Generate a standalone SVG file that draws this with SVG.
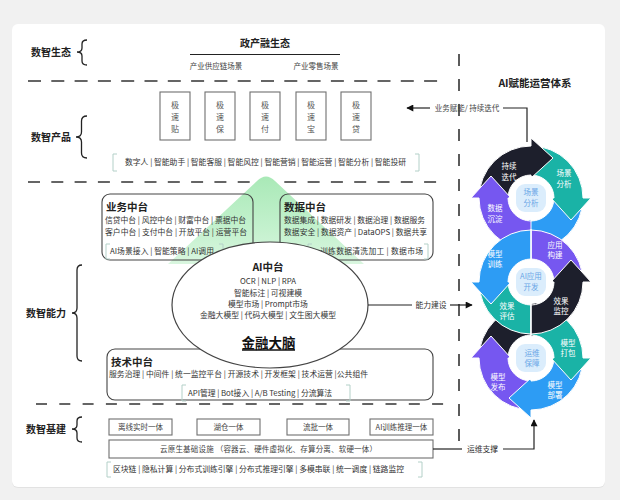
<svg xmlns="http://www.w3.org/2000/svg" width="620" height="500" viewBox="0 0 620 500">
<defs>
<style>
text{font-family:"Noto Sans CJK SC","Noto Sans",sans-serif}
.lbl{font-size:10px;font-weight:700;fill:#222}
.ttl{font-size:10.5px;font-weight:700;fill:#222}
.sm{font-size:7.8px;fill:#333}
.sub{font-size:7.5px;fill:#444}
.pc{font-size:8px;fill:#555;text-anchor:middle}
.mid{text-anchor:middle}
.box{fill:#fff;stroke:#6f6f6f;stroke-width:1.1}
.panel{fill:none;stroke:#444;stroke-width:1.1}
.dash{stroke:#333;stroke-width:1.6;fill:none}
.brk{fill:none;stroke:#b3d0c8;stroke-width:1}
.brace{fill:none;stroke:#222;stroke-width:1.3}
.conn{fill:none;stroke:#222;stroke-width:1.2}
.seg{stroke:#fff;stroke-width:1}
.dk{fill:#1d1f2c}.tl{fill:#1ab3a6}.bl{fill:#2d9cf4}.pu{fill:#7657f0}
.wl{font-size:7.5px;fill:#fff;text-anchor:middle}
.il{font-size:7.5px;fill:#6aa6e6;text-anchor:middle}
.hole{fill:#fff}
.sq{fill:#dbedfc}
</style>
<linearGradient id="gr" x1="0" y1="0" x2="0" y2="1">
<stop offset="0" stop-color="#a9e9b7"/>
<stop offset="0.6" stop-color="#c4f1ce"/>
<stop offset="1" stop-color="#d9f6df"/>
</linearGradient>
<marker id="ah" viewBox="0 0 10 10" refX="9" refY="5" markerUnits="userSpaceOnUse" markerWidth="8" markerHeight="7" orient="auto">
<path d="M0,0 L10,5 L0,10 z" fill="#111"/>
</marker>
</defs>

<rect x="0" y="0" width="620" height="500" fill="#f1f1f1"/>
<rect x="12" y="25" width="593" height="463" rx="6" fill="#e2e2e2"/>
<rect x="12" y="24" width="593" height="463" rx="6" fill="#fff"/>

<!-- dashed separators -->
<g id="separators">
<line class="dash" x1="28" y1="81" x2="438" y2="81" stroke-dasharray="13 10.3"/>
<line class="dash" x1="28" y1="182" x2="440" y2="182" stroke-dasharray="12 11.3"/>
<line class="dash" x1="36" y1="404" x2="445" y2="404" stroke-dasharray="11 12.3"/>
<line class="dash" x1="459" y1="54" x2="459" y2="443" stroke-dasharray="12 13"/>
</g>

<!-- left labels -->
<g id="labels">
<text class="lbl" x="31" y="56">数智生态</text>
<path class="brace" d="M87,40 Q82,40 82,44 L82,48 Q82,52 77,52 Q82,52 82,56 L82,61 Q82,65 87,65"/>
<text class="lbl" x="31" y="141">数智产品</text>
<path class="brace" d="M87,116 Q81.5,116 81.5,121 L81.5,132 Q81.5,137 76,137 Q81.5,137 81.5,142 L81.5,153 Q81.5,158 87,158"/>
<text class="lbl" x="26" y="317">数智能力</text>
<path class="brace" d="M82,265 Q77,265 77,270 L77,308 Q77,313 72,313 Q77,313 77,318 L77,356 Q77,361 82,361"/>
<text class="lbl" x="26" y="433">数智基建</text>
<path class="brace" d="M82,417 Q77,417 77,421 L77,425 Q77,429 72,429 Q77,429 77,433 L77,438 Q77,442 82,442"/>
</g>

<!-- ecosystem -->
<g id="ecosystem">
<text class="lbl mid" x="265" y="47">政产融生态</text>
<line x1="190" y1="54.5" x2="340" y2="54.5" stroke="#222" stroke-width="1.2"/>
<text class="sub mid" x="216" y="69">产业供应链场景</text>
<text class="sub mid" x="316" y="69">产业零售场景</text>
</g>

<!-- products -->
<g id="product-1"><rect class="box" x="160" y="92" width="30" height="48"/><text class="pc" x="175" y="108">极</text><text class="pc" x="175" y="120">速</text><text class="pc" x="175" y="132">贴</text></g>
<g id="product-2"><rect class="box" x="205" y="92" width="30" height="48"/><text class="pc" x="220" y="108">极</text><text class="pc" x="220" y="120">速</text><text class="pc" x="220" y="132">保</text></g>
<g id="product-3"><rect class="box" x="250" y="92" width="30" height="48"/><text class="pc" x="265" y="108">极</text><text class="pc" x="265" y="120">速</text><text class="pc" x="265" y="132">付</text></g>
<g id="product-4"><rect class="box" x="296" y="92" width="30" height="48"/><text class="pc" x="311" y="108">极</text><text class="pc" x="311" y="120">速</text><text class="pc" x="311" y="132">宝</text></g>
<g id="product-5"><rect class="box" x="341" y="92" width="30" height="48"/><text class="pc" x="356" y="108">极</text><text class="pc" x="356" y="120">速</text><text class="pc" x="356" y="132">贷</text></g>
<g id="product-abilities">
<path class="brk" d="M117,154 L113,154 L113,171 L117,171 M415,154 L419,154 L419,171 L415,171"/>
<text class="sm" x="125" y="165" textLength="281" lengthAdjust="spacing">数字人 | 智能助手 | 智能客服 | 智能风控 | 智能营销 | 智能运营 | 智能分析 | 智能投研</text>
</g>

<!-- green upward arrow -->
<path d="M168,264 L257,181 Q266,172 275,181 L364,264 Z" fill="url(#gr)"/>

<!-- 业务中台 -->
<g id="biz-platform">
<rect class="panel" x="102" y="194" width="151" height="66" rx="8"/>
<text class="ttl" x="106" y="211">业务中台</text>
<text class="sm" x="105" y="223" textLength="141" lengthAdjust="spacing">信贷中台 | 风控中台 | 财富中台 | 票据中台</text>
<text class="sm" x="105" y="235" textLength="142" lengthAdjust="spacing">客户中台 | 支付中台 | 开放平台 | 运营平台</text>
<path class="brk" d="M110,244 L106,244 L106,259 L110,259 M219,244 L223,244 L223,259 L219,259"/>
<text class="sm" x="110" y="254" textLength="104" lengthAdjust="spacing">AI场景接入 | 智能策略 | AI调用</text>
</g>

<!-- 数据中台 -->
<g id="data-platform">
<rect class="panel" x="280" y="194" width="153" height="66" rx="8"/>
<text class="ttl" x="284" y="211">数据中台</text>
<text class="sm" x="284" y="223" textLength="141" lengthAdjust="spacing">数据集成 | 数据研发 | 数据治理 | 数据服务</text>
<text class="sm" x="284" y="235" textLength="143" lengthAdjust="spacing">数据安全 | 数据资产 | DataOPS | 数据共享</text>
<path class="brk" d="M312,244 L308,244 L308,259 L312,259 M424,244 L428,244 L428,259 L424,259"/>
<text class="sm" x="320" y="254" textLength="103" lengthAdjust="spacing">训练数据清洗加工 | 数据市场</text>
</g>

<!-- 技术中台 -->
<g id="tech-platform">
<rect class="panel" x="107" y="349" width="326" height="51" rx="8"/>
<text class="ttl" x="111" y="366">技术中台</text>
<text class="sm" x="109" y="377" textLength="259" lengthAdjust="spacing">服务治理 | 中间件 | 统一监控平台 | 开源技术 | 开发框架 | 技术运营 |公共组件</text>
<path class="brk" d="M186,385 L182,385 L182,401 L186,401 M346,385 L350,385 L350,401 L346,401"/>
<text class="sm" x="188" y="396" textLength="144" lengthAdjust="spacing">API管理 | Bot接入 | A/B Testing | 分流算法</text>
</g>

<!-- AI中台 ellipse -->
<g id="ai-platform">
<ellipse cx="270" cy="305" rx="98" ry="63" fill="#fff" stroke="#444" stroke-width="1.2"/>
<text class="ttl mid" x="268" y="271">AI中台</text>
<text class="sm mid" x="268" y="284">OCR | NLP | RPA</text>
<text class="sm mid" x="268" y="296">智能标注 | 可视建模</text>
<text class="sm mid" x="268" y="307">模型市场 | Prompt市场</text>
<text class="sm" x="200" y="318" textLength="136" lengthAdjust="spacing">金融大模型 | 代码大模型 | 文生图大模型</text>
<text class="mid" x="268.5" y="347.5" font-size="13.5" font-weight="700" fill="#111">金融大脑</text>
<line x1="242" y1="350" x2="295" y2="350" stroke="#111" stroke-width="1.4"/>
</g>

<!-- infrastructure -->
<g id="infra-1"><rect class="box" x="109" y="419" width="63" height="16"/><text class="sub mid" x="140.5" y="430">离线实时一体</text></g>
<g id="infra-2"><rect class="box" x="197" y="419" width="63" height="16"/><text class="sub mid" x="228.5" y="430">湖仓一体</text></g>
<g id="infra-3"><rect class="box" x="287" y="419" width="62" height="16"/><text class="sub mid" x="318" y="430">流批一体</text></g>
<g id="infra-4"><rect class="box" x="370" y="419" width="63" height="16"/><text class="sub mid" x="401.5" y="430">AI训练推理一体</text></g>
<g id="infra-cloud"><rect class="box" x="109" y="440" width="324" height="18"/><text class="sub" x="160" y="452" textLength="217" lengthAdjust="spacing">云原生基础设施 （容器云、硬件虚拟化、存算分离、软硬一体）</text></g>
<g id="infra-abilities">
<path class="brk" d="M111,462 L107,462 L107,477 L111,477 M418,462 L422,462 L422,477 L418,477"/>
<text class="sm" x="113" y="472" textLength="291" lengthAdjust="spacing">区块链 | 隐私计算 | 分布式训练引擎 | 分布式推理引擎 | 多模串联 | 统一调度 | 链路监控</text>
</g>

<!-- right side title -->
<text class="mid" x="535" y="87" font-size="10.5" font-weight="700" fill="#222">AI赋能运营体系</text>

<!-- cycle 1 -->
<g id="cycle-1">
<path class="seg bl" d="M583,198 A52,52 0 0 1 531,250 L531,258 L509,238 L531,218 L531,221 A23,23 0 0 0 554,198 Z"/>
<path class="seg tl" d="M531,146 A52,52 0 0 1 583,198 L591,198 L571,220 L551,198 L554,198 A23,23 0 0 0 531,175 Z"/>
<path class="seg dk" d="M479,198 A52,52 0 0 1 531,146 L531,138 L553,158 L531,178 L531,175 A23,23 0 0 0 508,198 Z"/>
<path class="seg pu" d="M531,250 A52,52 0 0 1 479,198 L471,198 L491,176 L511,198 L508,198 A23,23 0 0 0 531,221 Z"/>
<circle class="hole" cx="531" cy="198" r="22"/>
<rect class="sq" x="516" y="184" width="30" height="28" rx="9"/>
<text class="il" x="531" y="195">场景</text><text class="il" x="531" y="206">分析</text>
<text class="wl" x="509" y="169">持续</text><text class="wl" x="509" y="180">迭代</text>
<text class="wl" x="564" y="176">场景</text><text class="wl" x="564" y="187">分析</text>
<text class="wl" x="495" y="211">数据</text><text class="wl" x="495" y="222">沉淀</text>
</g>

<!-- cycle 3 -->
<g id="cycle-3">
<path class="seg dk" d="M479,358 A52,52 0 0 1 531,306 L531,298 L553,318 L531,338 L531,335 A23,23 0 0 0 508,358 Z"/>
<path class="seg pu" d="M531,410 A52,52 0 0 1 479,358 L471,358 L491,336 L511,358 L508,358 A23,23 0 0 0 531,381 Z"/>
<path class="seg bl" d="M583,358 A52,52 0 0 1 531,410 L531,418 L509,398 L531,378 L531,381 A23,23 0 0 0 554,358 Z"/>
<path class="seg tl" d="M531,306 A52,52 0 0 1 583,358 L591,358 L571,380 L551,358 L554,358 A23,23 0 0 0 531,335 Z"/>
<circle class="hole" cx="531" cy="358" r="22"/>
<rect class="sq" x="516" y="344" width="30" height="28" rx="9"/>
<text class="il" x="532" y="356">运维</text><text class="il" x="532" y="366">保障</text>
<text class="wl" x="568" y="346">模型</text><text class="wl" x="568" y="356">打包</text>
<text class="wl" x="498" y="380">模型</text><text class="wl" x="498" y="390">发布</text>
<text class="wl" x="555" y="388">模型</text><text class="wl" x="555" y="398">部署</text>
</g>

<!-- cycle 2 -->
<g id="cycle-2">
<path class="seg tl" d="M479,282 A52,52 0 0 0 531,334 L531,305 A23,23 0 0 1 508,282 Z"/>
<path class="seg pu" d="M583,282 A52,52 0 0 0 531,230 L531,259 A23,23 0 0 1 554,282 Z"/>
<path class="seg bl" d="M531,230 A52,52 0 0 0 479,282 L471,282 L491,304 L511,282 L508,282 A23,23 0 0 1 531,259 Z"/>
<path class="seg dk" d="M531,334 A52,52 0 0 0 583,282 L591,282 L571,260 L551,282 L554,282 A23,23 0 0 1 531,305 Z"/>
<line x1="531" y1="229" x2="531" y2="335" stroke="#fff" stroke-width="1.3"/>
<circle class="hole" cx="531" cy="282" r="22"/>
<rect class="sq" x="516" y="268" width="30" height="28" rx="9"/>
<text class="il" x="531" y="279">AI应用</text><text class="il" x="531" y="290">开发</text>
<text class="wl" x="495" y="257">模型</text><text class="wl" x="495" y="267">训练</text>
<text class="wl" x="555" y="248">应用</text><text class="wl" x="555" y="258">构建</text>
<text class="wl" x="507" y="309">效果</text><text class="wl" x="507" y="319">评估</text>
<text class="wl" x="561" y="304">效果</text><text class="wl" x="561" y="314">监控</text>
</g>

<!-- connectors -->
<g id="connectors">
<polyline class="conn" points="527,142 527,108 503,108"/>
<line class="conn" x1="430" y1="108" x2="407" y2="108" marker-end="url(#ah)"/>
<text class="sub mid" x="467" y="111">业务赋能/ 持续迭代</text>
<line class="conn" x1="368" y1="305" x2="412" y2="305"/>
<text class="sm mid" x="431" y="308">能力建设</text>
<line class="conn" x1="450" y1="305" x2="472" y2="305" marker-end="url(#ah)"/>
<line class="conn" x1="433" y1="449" x2="462" y2="449"/>
<text class="sm mid" x="482.5" y="452">运维支撑</text>
<polyline class="conn" points="503,449 534,449 534,420" marker-end="url(#ah)"/>
</g>
</svg>
